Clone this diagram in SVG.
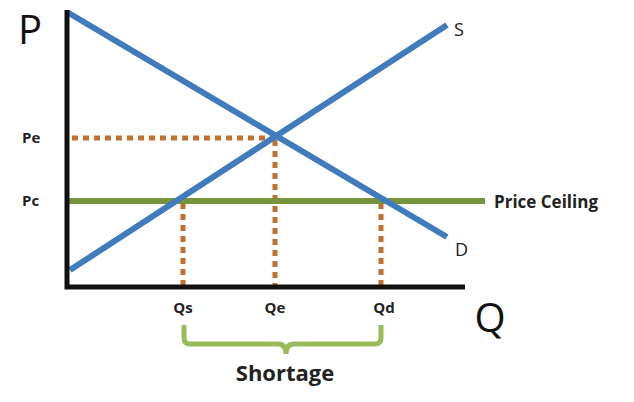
<svg xmlns="http://www.w3.org/2000/svg" width="634" height="402" viewBox="0 0 634 402">
<style>
.lbl{font-family:"Open Sans","Liberation Sans",sans-serif;font-weight:bold;font-size:15px;fill:#222}
.big{font-family:"Open Sans","Liberation Sans",sans-serif;font-size:40px;fill:#111}
.cur{stroke:#3f7bbd;stroke-width:6;fill:none}
.dot{stroke:#c2702e;stroke-width:5;stroke-dasharray:6 5;fill:none}
</style>
<rect width="634" height="402" fill="#fff"/>
<g id="connectors">
<line class="dot" x1="72" y1="138" x2="275" y2="138"/>
<line class="dot" x1="275" y1="140" x2="275" y2="285"/>
<line class="dot" x1="183" y1="203" x2="183" y2="285"/>
<line class="dot" x1="381" y1="203" x2="381" y2="285"/>
<line x1="67" y1="201" x2="485" y2="201" stroke="#77933c" stroke-width="6"/>
<line class="cur" x1="67" y1="12" x2="447" y2="237"/>
<line class="cur" x1="70" y1="270" x2="447" y2="25"/>
<path d="M67 10 V287 H465" stroke="#111" stroke-width="5" fill="none"/>
<path d="M184 325 V338 Q184 344 190 344 H278 Q286 344 286 354 Q286 344 294 344 H375 Q381 344 381 338 V325" stroke="#9bbb59" stroke-width="5" fill="none"/>
</g>
<g id="labels">
<text class="big" x="30" y="44" text-anchor="middle">P</text>
<text class="big" x="490" y="332" text-anchor="middle">Q</text>
<text class="lbl" x="22" y="143">Pe</text>
<text class="lbl" x="22" y="206">Pc</text>
<text class="lbl" x="183" y="313" text-anchor="middle">Qs</text>
<text class="lbl" x="275" y="313" text-anchor="middle">Qe</text>
<text class="lbl" x="384" y="313" text-anchor="middle">Qd</text>
<text class="lbl" x="494" y="208" style="font-size:17px">Price Ceiling</text>
<text class="lbl" x="285" y="381" text-anchor="middle" style="font-size:22px">Shortage</text>
<text x="454" y="36" style="font-family:'Open Sans','Liberation Sans',sans-serif;font-size:18px;fill:#222">S</text>
<text x="455" y="256" style="font-family:'Open Sans','Liberation Sans',sans-serif;font-size:18px;fill:#222">D</text>
</g>
</svg>
